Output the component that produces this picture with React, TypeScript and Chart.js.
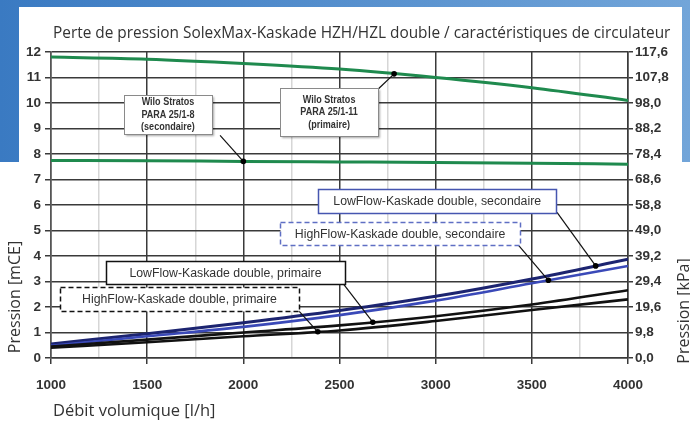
import React, { useEffect, useRef } from 'react';
import { Chart, registerables } from 'chart.js';

Chart.register(...registerables);

// ---------- DATA ----------
const FLOW = [1000, 1500, 2000, 2500, 3000, 3500, 4000]; // l/h
const PUMP_PRIMAIRE = [11.8, 11.72, 11.55, 11.33, 11.0, 10.6, 10.1]; // Wilo Stratos PARA 25/1-11
const PUMP_SECONDAIRE = [7.75, 7.74, 7.71, 7.69, 7.67, 7.64, 7.6]; // Wilo Stratos PARA 25/1-8
const LOWFLOW_SEC = [0.55, 0.95, 1.38, 1.86, 2.42, 3.1, 3.87];
const HIGHFLOW_SEC = [0.48, 0.85, 1.22, 1.68, 2.25, 2.93, 3.61];
const LOWFLOW_PRIM = [0.45, 0.72, 1.0, 1.28, 1.64, 2.1, 2.66];
const HIGHFLOW_PRIM = [0.4, 0.62, 0.85, 1.08, 1.45, 1.88, 2.3];

const X_MIN = 1000;
const X_MAX = 4000;
const X_STEP = 250;
const X_LABEL_STEP = 500;
const MCE_TICKS = [0, 1, 2, 3, 4, 5, 6, 7, 8, 9, 10, 11, 12];
const KPA_TICKS = [0, 9.8, 19.6, 29.4, 39.2, 49.0, 58.8, 68.6, 78.4, 88.2, 98.0, 107.8, 117.6];

const TITLE = 'Perte de pression SolexMax-Kaskade HZH/HZL double / caractéristiques de circulateur';
const X_TITLE = 'Débit volumique [l/h]';
const Y_TITLE = 'Pression [mCE]';
const Y2_TITLE = 'Pression [kPa]';

const SERIES = {
  pumpPrim: PUMP_PRIMAIRE,
  pumpSec: PUMP_SECONDAIRE,
  lowSec: LOWFLOW_SEC,
  highSec: HIGHFLOW_SEC,
  lowPrim: LOWFLOW_PRIM,
  highPrim: HIGHFLOW_PRIM,
};

// Callout labels (box centre / leader start in data units, dot on the series at dotX)
const CALLOUTS = [
  { lines: ['Wilo Stratos', 'PARA 25/1-8', '(secondaire)'], series: 'pumpSec', bx: 1608, by: 9.53, w: 88, h: 39, fromX: 1879, fromY: 8.73, dotX: 2000, kind: 'wilo' },
  { lines: ['Wilo Stratos', 'PARA 25/1-11', '(primaire)'], series: 'pumpPrim', bx: 2446, by: 9.64, w: 98, h: 48, fromX: 2700, fromY: 10.54, dotX: 2784, kind: 'wilo' },
  { lines: ['LowFlow-Kaskade double, secondaire'], series: 'lowSec', bx: 3008, by: 6.14, w: 238, h: 24, fromX: 3631, fromY: 5.71, dotX: 3832, kind: 'blueSolid' },
  { lines: ['HighFlow-Kaskade double, secondaire'], series: 'highSec', bx: 2815, by: 4.87, w: 240, h: 23, fromX: 3430, fromY: 4.43, dotX: 3586, kind: 'blueDash' },
  { lines: ['LowFlow-Kaskade double, primaire'], series: 'lowPrim', bx: 1907, by: 3.34, w: 239, h: 23, fromX: 2518, fromY: 2.93, dotX: 2673, kind: 'blackSolid' },
  { lines: ['HighFlow-Kaskade double, primaire'], series: 'highPrim', bx: 1668, by: 2.3, w: 239, h: 24, fromX: 2286, fromY: 1.87, dotX: 2387, kind: 'blackDash' },
];

function interp(xs: number[], ys: number[], x: number): number {
  for (let i = 0; i < xs.length - 1; i++) {
    if (x >= xs[i] && x <= xs[i + 1]) {
      const t = (x - xs[i]) / (xs[i + 1] - xs[i]);
      return ys[i] + t * (ys[i + 1] - ys[i]);
    }
  }
  return ys[ys.length - 1];
}

const fmtKpa = (v: number) => v.toFixed(1).replace('.', ',');

const TICK_FONT = { family: '"Liberation Sans", Arial, sans-serif', size: 13.5, weight: 'bold' as const };
const TICK_COLOR = '#333';
const GRID_DARK = '#3a3a3a';
const GRID_LIGHT = '#d6d6d6';

const backgroundPlugin = {
  id: 'bgDeco',
  beforeDraw(chart: any) {
    const ctx = chart.ctx as CanvasRenderingContext2D;
    const W = chart.width;
    ctx.save();
    ctx.fillStyle = '#ffffff';
    ctx.fillRect(0, 0, W, chart.height);
    const g = ctx.createLinearGradient(0, 0, W, 0);
    g.addColorStop(0, '#3a7ac2');
    g.addColorStop(1, '#72a5d9');
    ctx.fillStyle = g;
    ctx.fillRect(0, 0, W, 7);
    ctx.fillRect(0, 0, 19, 162);
    ctx.fillRect(682, 0, W - 682, 162);
    ctx.restore();
  },
};

const textPlugin = {
  id: 'texts',
  afterDraw(chart: any) {
    const ctx = chart.ctx as CanvasRenderingContext2D;
    ctx.save();
    ctx.fillStyle = '#333';
    ctx.font = '15.4px "Open Sans", sans-serif';
    ctx.textAlign = 'left';
    ctx.textBaseline = 'alphabetic';
    ctx.fillText(TITLE, 53, 37.5);

    ctx.font = '16.5px "Open Sans", sans-serif';
    ctx.fillText(X_TITLE, 53, 416);

    ctx.font = '16px "Open Sans", sans-serif';
    ctx.textAlign = 'center';
    ctx.textBaseline = 'middle';
    ctx.save();
    ctx.translate(15, 297);
    ctx.rotate(-Math.PI / 2);
    ctx.fillText(Y_TITLE, 0, 0);
    ctx.restore();

    ctx.save();
    ctx.translate(684, 311);
    ctx.rotate(-Math.PI / 2);
    ctx.fillText(Y2_TITLE, 0, 0);
    ctx.restore();
    ctx.restore();
  },
};

const calloutPlugin = {
  id: 'callouts',
  afterDatasetsDraw(chart: any) {
    const ctx = chart.ctx as CanvasRenderingContext2D;
    const xs = chart.scales.x;
    const ys = chart.scales.y;
    for (const c of CALLOUTS) {
      const data = (SERIES as any)[c.series] as number[];
      const dX = xs.getPixelForValue(c.dotX);
      const dY = ys.getPixelForValue(interp(FLOW, data, c.dotX));
      const sX = xs.getPixelForValue(c.fromX);
      const sY = ys.getPixelForValue(c.fromY);
      const cx = xs.getPixelForValue(c.bx);
      const cy = ys.getPixelForValue(c.by);
      const left = Math.round(cx - c.w / 2) + 0.5;
      const top = Math.round(cy - c.h / 2) + 0.5;

      ctx.save();
      // leader
      ctx.strokeStyle = '#111';
      ctx.lineWidth = 1.2;
      ctx.beginPath();
      ctx.moveTo(sX, sY);
      ctx.lineTo(dX, dY);
      ctx.stroke();
      ctx.fillStyle = '#000';
      ctx.beginPath();
      ctx.arc(dX, dY, 2.8, 0, Math.PI * 2);
      ctx.fill();

      // box
      let stroke = '#111';
      let dash: number[] = [];
      let lw = 1.5;
      if (c.kind === 'wilo') { stroke = '#8a8a8a'; lw = 1; }
      if (c.kind === 'blueSolid') { stroke = '#4656b0'; }
      if (c.kind === 'blueDash') { stroke = '#5f6fc4'; dash = [5, 3]; }
      if (c.kind === 'blackDash') { dash = [5, 3]; }
      if (c.kind === 'wilo') {
        ctx.shadowColor = 'rgba(0,0,0,0.35)';
        ctx.shadowBlur = 2;
        ctx.shadowOffsetX = 1.5;
        ctx.shadowOffsetY = 1.5;
      }
      ctx.fillStyle = '#fff';
      ctx.fillRect(left, top, c.w, c.h);
      ctx.shadowColor = 'rgba(0,0,0,0)';
      ctx.strokeStyle = stroke;
      ctx.lineWidth = lw;
      ctx.setLineDash(dash);
      ctx.strokeRect(left, top, c.w, c.h);
      ctx.setLineDash([]);

      // text
      ctx.fillStyle = '#333';
      ctx.textAlign = 'center';
      ctx.textBaseline = 'middle';
      if (c.kind === 'wilo') {
        ctx.font = 'bold 10.5px "Liberation Sans", Arial, sans-serif';
        const lh = 12.5;
        const n = c.lines.length;
        c.lines.forEach((t, i) => {
          ctx.save();
          ctx.translate(cx, cy + (i - (n - 1) / 2) * lh);
          ctx.scale(0.86, 1);
          ctx.fillText(t, 0, 0);
          ctx.restore();
        });
      } else {
        ctx.font = '12.3px "Liberation Sans", Arial, sans-serif';
        ctx.fillText(c.lines[0], cx, cy + 0.5);
      }
      ctx.restore();
    }
  },
};

export default function App() {
  const ref = useRef<HTMLCanvasElement | null>(null);

  useEffect(() => {
    if (!ref.current) return;
    const pts = (arr: number[]) => FLOW.map((x, i) => ({ x, y: arr[i] }));
    const base = { pointRadius: 0, fill: false, cubicInterpolationMode: 'monotone' as const, borderCapStyle: 'butt' as const };
    const chart = new Chart(ref.current, {
      type: 'line',
      data: {
        datasets: [
          { ...base, label: 'Wilo Stratos PARA 25/1-11 (primaire)', data: pts(PUMP_PRIMAIRE), borderColor: '#1f8a4e', borderWidth: 3 },
          { ...base, label: 'Wilo Stratos PARA 25/1-8 (secondaire)', data: pts(PUMP_SECONDAIRE), borderColor: '#1f8a4e', borderWidth: 3 },
          { ...base, label: 'HighFlow-Kaskade double, primaire', data: pts(HIGHFLOW_PRIM), borderColor: '#111', borderWidth: 2.6 },
          { ...base, label: 'LowFlow-Kaskade double, primaire', data: pts(LOWFLOW_PRIM), borderColor: '#111', borderWidth: 2.6 },
          { ...base, label: 'HighFlow-Kaskade double, secondaire', data: pts(HIGHFLOW_SEC), borderColor: '#3a49b8', borderWidth: 2.6 },
          { ...base, label: 'LowFlow-Kaskade double, secondaire', data: pts(LOWFLOW_SEC), borderColor: '#1c2470', borderWidth: 3 },
        ],
      },
      options: {
        responsive: false,
        maintainAspectRatio: false,
        animation: false,
        layout: { padding: { top: 52, left: 0, right: 0, bottom: 0 } },
        plugins: { legend: { display: false }, tooltip: { enabled: false }, title: { display: false } },
        scales: {
          x: {
            type: 'linear',
            min: X_MIN,
            max: X_MAX,
            afterFit: (s: any) => { s.height = 65; },
            ticks: {
              stepSize: X_STEP,
              padding: 13,
              autoSkip: false,
              maxRotation: 0,
              color: TICK_COLOR,
              font: TICK_FONT,
              callback: (v: any) => (Number(v) % X_LABEL_STEP === 0 ? String(v) : ''),
            },
            grid: {
              color: (c: any) => (c.tick && c.tick.value % X_LABEL_STEP === 0 ? GRID_DARK : GRID_LIGHT),
              tickColor: (c: any) => (c.tick && c.tick.value % X_LABEL_STEP === 0 ? GRID_DARK : 'rgba(0,0,0,0)'),
              lineWidth: 1.5,
              tickLength: 6,
            },
            border: { display: true, color: GRID_DARK, width: 1.5 },
          },
          y: {
            type: 'linear',
            position: 'left',
            min: 0,
            max: 12,
            afterFit: (s: any) => { s.width = 51; },
            afterBuildTicks: (s: any) => { s.ticks = MCE_TICKS.map((v) => ({ value: v })); },
            ticks: { padding: 4, color: TICK_COLOR, font: TICK_FONT, callback: (v: any) => String(v) },
            grid: { color: GRID_DARK, lineWidth: 1.5, tickLength: 6, tickColor: GRID_DARK },
            border: { display: true, color: '#555', width: 1.5 },
          },
          y1: {
            type: 'linear',
            position: 'right',
            min: 0,
            max: 117.6,
            afterFit: (s: any) => { s.width = 62; },
            afterBuildTicks: (s: any) => { s.ticks = KPA_TICKS.map((v) => ({ value: v })); },
            ticks: { padding: 2, color: TICK_COLOR, font: TICK_FONT, callback: (v: any) => fmtKpa(Number(v)) },
            grid: { drawOnChartArea: false, tickLength: 5, tickColor: GRID_DARK, lineWidth: 1.5 },
            border: { display: true, color: GRID_DARK, width: 1.5 },
          },
        },
      },
      plugins: [backgroundPlugin, calloutPlugin, textPlugin],
    } as any);
    return () => chart.destroy();
  }, []);

  return (
    <div style={{ position: 'absolute', left: 0, top: 0, width: 690, height: 423 }}>
      <canvas ref={ref} width={690} height={423} style={{ display: 'block' }} />
    </div>
  );
}
